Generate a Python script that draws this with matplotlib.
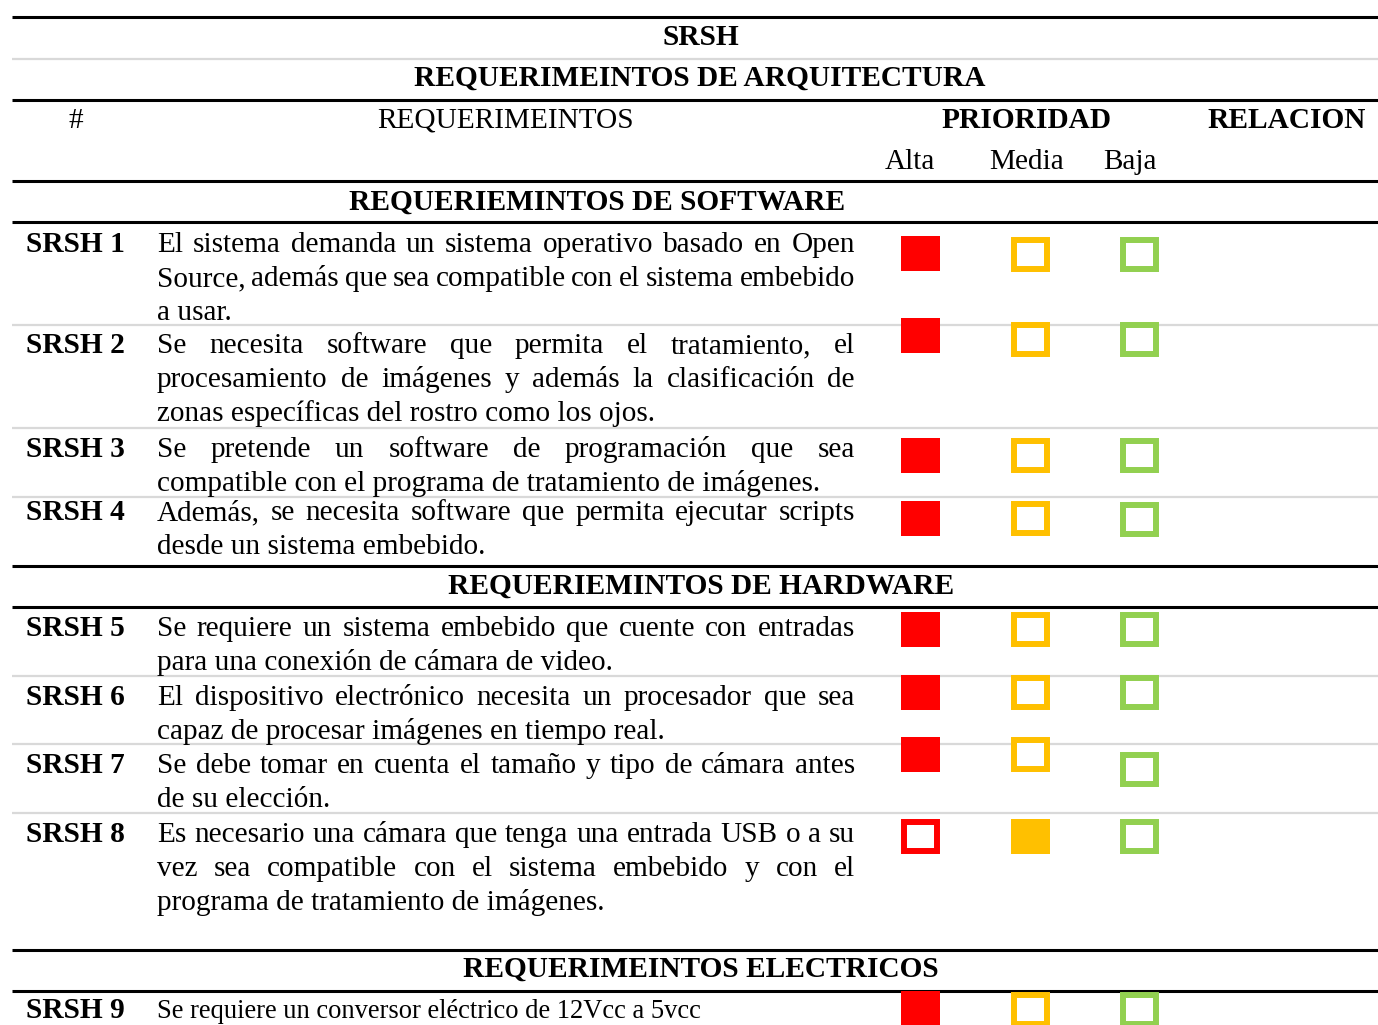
import matplotlib
matplotlib.use("Agg")
import matplotlib.pyplot as plt
from matplotlib.patches import Rectangle

plt.rcParams['font.family'] = ['Liberation Serif', 'DejaVu Serif']

# ---- table content ----
title = "SRSH"
subtitle = "REQUERIMEINTOS DE ARQUITECTURA"
col_headers = ["#", "REQUERIMEINTOS", "PRIORIDAD", "RELACION"]
priority_levels = ["Alta", "Media", "Baja"]
priority_colors = ["#FF0000", "#FFC000", "#92D050"]

sections = ["REQUERIEMINTOS DE SOFTWARE", "REQUERIEMINTOS DE HARDWARE",
            "REQUERIMEINTOS ELECTRICOS"]

row_ids = ["SRSH 1", "SRSH 2", "SRSH 3", "SRSH 4", "SRSH 5",
           "SRSH 6", "SRSH 7", "SRSH 8", "SRSH 9"]
row_lines = [
    ["El sistema demanda un sistema operativo basado en Open",
     "Source, además que sea compatible con el sistema embebido",
     "a usar."],
    ["Se necesita software que permita el tratamiento, el",
     "procesamiento de imágenes y además la clasificación de",
     "zonas específicas del rostro como los ojos."],
    ["Se pretende un software de programación que sea",
     "compatible con el programa de tratamiento de imágenes."],
    ["Además, se necesita software que permita ejecutar scripts",
     "desde un sistema embebido."],
    ["Se requiere un sistema embebido que cuente con entradas",
     "para una conexión de cámara de video."],
    ["El dispositivo electrónico necesita un procesador que sea",
     "capaz de procesar imágenes en tiempo real."],
    ["Se debe tomar en cuenta el tamaño y tipo de cámara antes",
     "de su elección."],
    ["Es necesario una cámara que tenga una entrada USB o a su",
     "vez sea compatible con el sistema embebido y con el",
     "programa de tratamiento de imágenes."],
    ["Se requiere un conversor eléctrico de 12Vcc a 5vcc"],
]
row_priority = ["Alta", "Alta", "Alta", "Alta", "Alta",
                "Alta", "Alta", "Media", "Alta"]

# ---- layout (pixels) ----
W, H = 1378, 1025
X0, X1 = 12, 1378
TEXT_L, TEXT_R = 157, 855
row_base = [252, 353, 457, 520, 636, 705, 773, 842, 1018]
LINE_GAP = 34
thick_y = [17, 100, 181, 222, 566, 607, 950, 991]
gray_y = [59, 325, 428, 497, 676, 744, 813]
section_y = [210, 594, 977]
section_x = [597, 701, 701]
box_x = [901, 1011, 1120]
box_w, box_h = 39, 35
box_top = [[236, 237, 237], [318, 322, 322], [438, 438, 438], [501, 501, 502],
           [612, 612, 612], [675, 675, 675], [737, 737, 752], [819, 819, 819],
           [991, 992, 992]]
BODY = 21.1
BOLD = 21.2

fig = plt.figure(figsize=(W / 100, H / 100), dpi=100)
ax = fig.add_axes([0, 0, 1, 1])
ax.set_xlim(0, W)
ax.set_ylim(H, 0)
ax.axis("off")
renderer = fig.canvas.get_renderer()

for y in gray_y:
    ax.plot([X0, X1], [y, y], color="#d9d9d9", lw=1.6, solid_capstyle="butt", zorder=1)
for y in thick_y:
    ax.plot([X0, X1], [y, y], color="black", lw=2.2, solid_capstyle="butt", zorder=1)

ax.text(701, 45, title, ha="center", va="baseline", fontsize=BOLD, fontweight="bold")
ax.text(700, 86, subtitle, ha="center", va="baseline", fontsize=BOLD, fontweight="bold")
ax.text(76, 128, col_headers[0], ha="center", va="baseline", fontsize=BODY)
ax.text(506, 128, col_headers[1], ha="center", va="baseline", fontsize=BODY)
ax.text(1026, 128, col_headers[2], ha="center", va="baseline", fontsize=BOLD, fontweight="bold")
ax.text(1287, 128, col_headers[3], ha="center", va="baseline", fontsize=BOLD, fontweight="bold")
for lvl, cx in zip(priority_levels, [910, 1027, 1130]):
    ax.text(cx, 169, lvl, ha="center", va="baseline", fontsize=BODY)

for name, sx, sy in zip(sections, section_x, section_y):
    ax.text(sx, sy, name, ha="center", va="baseline", fontsize=BOLD, fontweight="bold")


def justified(line, y, size):
    words = line.split()
    objs = [ax.text(0, y, w, ha="left", va="baseline", fontsize=size) for w in words]
    widths = [o.get_window_extent(renderer).width for o in objs]
    gap = (TEXT_R - TEXT_L - sum(widths)) / (len(words) - 1)
    x = TEXT_L
    for o, w in zip(objs, widths):
        o.set_x(x)
        x += w + gap


for i, rid in enumerate(row_ids):
    y0 = row_base[i]
    ax.text(26, y0, rid, ha="left", va="baseline", fontsize=BOLD, fontweight="bold")
    size = BODY if i < 8 else 19.1
    lines = row_lines[i]
    for j, line in enumerate(lines):
        y = y0 + j * LINE_GAP
        if j < len(lines) - 1:
            justified(line, y, size)
        else:
            ax.text(TEXT_L, y, line, ha="left", va="baseline", fontsize=size)

    for k, lvl in enumerate(priority_levels):
        top = box_top[i][k]
        col = priority_colors[k]
        if row_priority[i] == lvl:
            ax.add_patch(Rectangle((box_x[k], top), box_w, box_h, facecolor=col,
                                   edgecolor="none", zorder=3))
        else:
            ax.add_patch(Rectangle((box_x[k] + 3, top + 3), box_w - 6, box_h - 6,
                                   facecolor="white", edgecolor=col, lw=4.3, zorder=3))

fig.savefig("out.png", dpi=100)
